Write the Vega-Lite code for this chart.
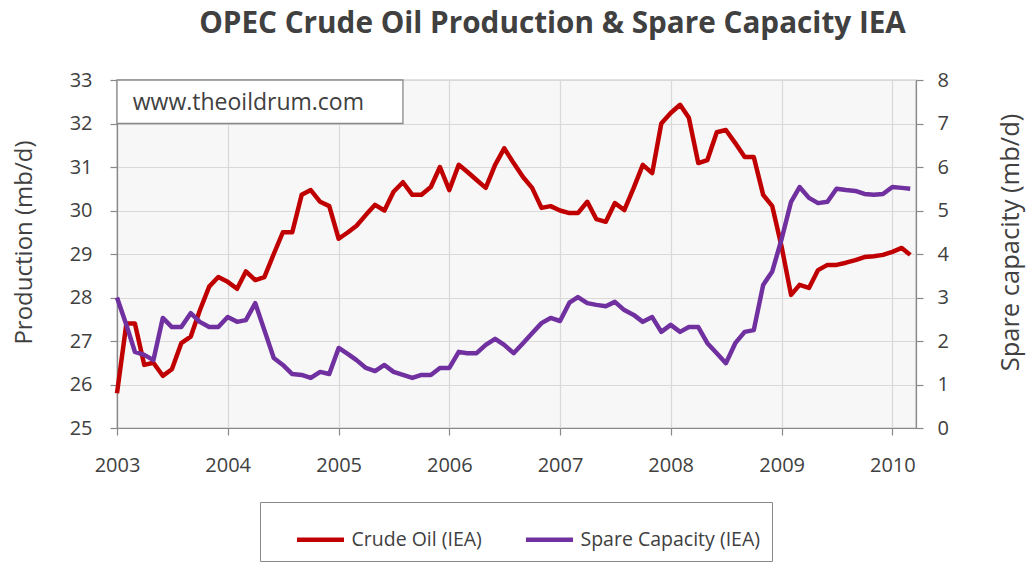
{
  "$schema": "https://vega.github.io/schema/vega-lite/v6.json",
  "width": 799,
  "height": 348,
  "autosize": {"type": "none"},
  "padding": {"left": 117, "top": 80, "right": 111, "bottom": 141},
  "background": "white",
  "title": {
    "text": "OPEC Crude Oil Production & Spare Capacity IEA",
    "font": "Open Sans",
    "fontSize": 29.7,
    "fontWeight": "bold",
    "color": "#404040",
    "anchor": "middle",
    "frame": "group",
    "dx": 36,
    "offset": 30
  },
  "config": {
    "view": {"fill": "#f7f7f7", "stroke": "#898989", "strokeWidth": 1.2},
    "axis": {
      "domainColor": "#898989",
      "domainWidth": 1.2,
      "tickColor": "#898989",
      "tickWidth": 1.2,
      "tickSize": 7,
      "gridColor": "#d9d9d9",
      "gridWidth": 1.2,
      "labelFont": "Open Sans",
      "labelFontSize": 20,
      "labelColor": "#404040",
      "labelFlush": false,
      "titleFont": "Open Sans",
      "titleFontSize": 24,
      "titleFontWeight": "normal",
      "titleColor": "#404040"
    }
  },
  "data": {
    "values": [
      {"month": "2003-01-01", "crude": 25.8, "spare": 3.0},
      {"month": "2003-02-01", "crude": 27.4, "spare": 2.37},
      {"month": "2003-03-01", "crude": 27.4, "spare": 1.75},
      {"month": "2003-04-01", "crude": 26.45, "spare": 1.68},
      {"month": "2003-05-01", "crude": 26.5, "spare": 1.56},
      {"month": "2003-06-01", "crude": 26.2, "spare": 2.53},
      {"month": "2003-07-01", "crude": 26.35, "spare": 2.32},
      {"month": "2003-08-01", "crude": 26.95, "spare": 2.32},
      {"month": "2003-09-01", "crude": 27.1, "spare": 2.64},
      {"month": "2003-10-01", "crude": 27.7, "spare": 2.44},
      {"month": "2003-11-01", "crude": 28.25, "spare": 2.32},
      {"month": "2003-12-01", "crude": 28.47, "spare": 2.32},
      {"month": "2004-01-01", "crude": 28.36, "spare": 2.55},
      {"month": "2004-02-01", "crude": 28.2, "spare": 2.44},
      {"month": "2004-03-01", "crude": 28.6, "spare": 2.48},
      {"month": "2004-04-01", "crude": 28.4, "spare": 2.87},
      {"month": "2004-05-01", "crude": 28.47, "spare": 2.25},
      {"month": "2004-06-01", "crude": 29.0, "spare": 1.61},
      {"month": "2004-07-01", "crude": 29.5, "spare": 1.45},
      {"month": "2004-08-01", "crude": 29.5, "spare": 1.24},
      {"month": "2004-09-01", "crude": 30.36, "spare": 1.22},
      {"month": "2004-10-01", "crude": 30.47, "spare": 1.15},
      {"month": "2004-11-01", "crude": 30.2, "spare": 1.29},
      {"month": "2004-12-01", "crude": 30.1, "spare": 1.24},
      {"month": "2005-01-01", "crude": 29.35, "spare": 1.84},
      {"month": "2005-02-01", "crude": 29.5, "spare": 1.7},
      {"month": "2005-03-01", "crude": 29.65, "spare": 1.56},
      {"month": "2005-04-01", "crude": 29.9, "spare": 1.38},
      {"month": "2005-05-01", "crude": 30.13, "spare": 1.31},
      {"month": "2005-06-01", "crude": 30.0, "spare": 1.45},
      {"month": "2005-07-01", "crude": 30.43, "spare": 1.29},
      {"month": "2005-08-01", "crude": 30.65, "spare": 1.22},
      {"month": "2005-09-01", "crude": 30.36, "spare": 1.15},
      {"month": "2005-10-01", "crude": 30.36, "spare": 1.22},
      {"month": "2005-11-01", "crude": 30.54, "spare": 1.22},
      {"month": "2005-12-01", "crude": 31.0, "spare": 1.38},
      {"month": "2006-01-01", "crude": 30.47, "spare": 1.38},
      {"month": "2006-02-01", "crude": 31.05, "spare": 1.75},
      {"month": "2006-03-01", "crude": 30.89, "spare": 1.72},
      {"month": "2006-04-01", "crude": 30.7, "spare": 1.72},
      {"month": "2006-05-01", "crude": 30.52, "spare": 1.91},
      {"month": "2006-06-01", "crude": 31.05, "spare": 2.05},
      {"month": "2006-07-01", "crude": 31.43, "spare": 1.91},
      {"month": "2006-08-01", "crude": 31.09, "spare": 1.72},
      {"month": "2006-09-01", "crude": 30.77, "spare": 1.95},
      {"month": "2006-10-01", "crude": 30.52, "spare": 2.18},
      {"month": "2006-11-01", "crude": 30.06, "spare": 2.41},
      {"month": "2006-12-01", "crude": 30.1, "spare": 2.53},
      {"month": "2007-01-01", "crude": 30.0, "spare": 2.46},
      {"month": "2007-02-01", "crude": 29.94, "spare": 2.88},
      {"month": "2007-03-01", "crude": 29.94, "spare": 3.01},
      {"month": "2007-04-01", "crude": 30.2, "spare": 2.87},
      {"month": "2007-05-01", "crude": 29.8, "spare": 2.83},
      {"month": "2007-06-01", "crude": 29.74, "spare": 2.8},
      {"month": "2007-07-01", "crude": 30.17, "spare": 2.9},
      {"month": "2007-08-01", "crude": 30.01, "spare": 2.71},
      {"month": "2007-09-01", "crude": 30.52, "spare": 2.6},
      {"month": "2007-10-01", "crude": 31.05, "spare": 2.44},
      {"month": "2007-11-01", "crude": 30.86, "spare": 2.55},
      {"month": "2007-12-01", "crude": 32.0, "spare": 2.21},
      {"month": "2008-01-01", "crude": 32.24, "spare": 2.37},
      {"month": "2008-02-01", "crude": 32.43, "spare": 2.21},
      {"month": "2008-03-01", "crude": 32.13, "spare": 2.32},
      {"month": "2008-04-01", "crude": 31.09, "spare": 2.32},
      {"month": "2008-05-01", "crude": 31.16, "spare": 1.95},
      {"month": "2008-06-01", "crude": 31.8, "spare": 1.72},
      {"month": "2008-07-01", "crude": 31.85, "spare": 1.49},
      {"month": "2008-08-01", "crude": 31.55, "spare": 1.95},
      {"month": "2008-09-01", "crude": 31.23, "spare": 2.21},
      {"month": "2008-10-01", "crude": 31.23, "spare": 2.25},
      {"month": "2008-11-01", "crude": 30.36, "spare": 3.29},
      {"month": "2008-12-01", "crude": 30.1, "spare": 3.6},
      {"month": "2009-01-01", "crude": 29.16, "spare": 4.35},
      {"month": "2009-02-01", "crude": 28.06, "spare": 5.2},
      {"month": "2009-03-01", "crude": 28.29, "spare": 5.54},
      {"month": "2009-04-01", "crude": 28.22, "spare": 5.29},
      {"month": "2009-05-01", "crude": 28.63, "spare": 5.17},
      {"month": "2009-06-01", "crude": 28.75, "spare": 5.2},
      {"month": "2009-07-01", "crude": 28.75, "spare": 5.5},
      {"month": "2009-08-01", "crude": 28.8, "spare": 5.47},
      {"month": "2009-09-01", "crude": 28.86, "spare": 5.45},
      {"month": "2009-10-01", "crude": 28.93, "spare": 5.38},
      {"month": "2009-11-01", "crude": 28.95, "spare": 5.36},
      {"month": "2009-12-01", "crude": 28.98, "spare": 5.38},
      {"month": "2010-01-01", "crude": 29.05, "spare": 5.54},
      {"month": "2010-02-01", "crude": 29.14, "spare": 5.52},
      {"month": "2010-03-01", "crude": 28.98, "spare": 5.5}
    ]
  },
  "layer": [
    {
      "mark": {"type": "line", "strokeWidth": 4.5, "strokeJoin": "round"},
      "encoding": {
        "x": {
          "field": "month",
          "type": "temporal",
          "title": "",
          "scale": {"type": "utc", "domain": [{"year": 2003, "month": 1, "date": 1, "utc": true}, {"year": 2010, "month": 3, "date": 20, "utc": true}]},
          "axis": {
            "grid": true,
            "labelPadding": 20,
            "labelFlush": false,
            "tickCount": {"interval": "year", "step": 1}
          }
        },
        "y": {
          "field": "crude",
          "type": "quantitative",
          "scale": {"domain": [25, 33], "nice": false, "zero": false},
          "axis": {
            "orient": "left",
            "title": "Production (mb/d)",
            "values": [25, 26, 27, 28, 29, 30, 31, 32, 33],
            "grid": true,
            "labelPadding": 18,
            "titleX": -93,
            "titleY": 162,
            "titleBaseline": "middle",
            "titleAlign": "center"
          }
        },
        "color": {
          "datum": "Crude Oil (IEA)",
          "type": "nominal",
          "scale": {"domain": ["Crude Oil (IEA)", "Spare Capacity (IEA)"], "range": ["#c00000", "#7030a0"]},
          "legend": {
            "orient": "none",
            "legendX": 143,
            "legendY": 422,
            "direction": "horizontal",
            "title": null,
            "symbolType": "stroke",
            "symbolSize": 2209,
            "symbolStrokeWidth": 4.5,
            "labelFont": "Open Sans",
            "labelFontSize": 19.5,
            "labelColor": "#404040",
            "labelLimit": 400,
            "padding": 11.5,
            "strokeColor": "#898989",
            "fillColor": "white",
            "symbolOffset": 23,
            "labelOffset": 5,
            "columnPadding": 18
          }
        }
      }
    },
    {
      "mark": {"type": "line", "strokeWidth": 4.5, "strokeJoin": "round"},
      "encoding": {
        "x": {"field": "month", "type": "temporal", "scale": {"type": "utc"}},
        "y": {
          "field": "spare",
          "type": "quantitative",
          "scale": {"domain": [0, 8], "nice": false},
          "axis": {
            "orient": "right",
            "title": "Spare capacity (mb/d)",
            "values": [0, 1, 2, 3, 4, 5, 6, 7, 8],
            "grid": false,
            "labelPadding": 14,
            "titleFontSize": 25.5,
            "titleAngle": 270,
            "titleX": 94,
            "titleY": 162,
            "titleBaseline": "middle",
            "titleAlign": "center"
          }
        },
        "color": {"datum": "Spare Capacity (IEA)", "type": "nominal"}
      }
    },
    {
      "data": {"values": [{}]},
      "mark": {"type": "rect", "fill": "white", "stroke": "#898989", "strokeWidth": 1.3},
      "encoding": {
        "x": {"datum": {"year": 2003, "month": 1, "date": 1, "utc": true}, "type": "temporal", "scale": {"type": "utc"}},
        "x2": {"datum": {"year": 2005, "month": 8, "date": 1, "utc": true}},
        "y": {"datum": 32, "type": "quantitative", "axis": null, "scale": {"domain": [25, 33], "nice": false, "zero": false}},
        "y2": {"datum": 33}
      }
    },
    {
      "data": {"values": [{}]},
      "mark": {"type": "text", "font": "Open Sans", "fontSize": 23, "color": "#404040", "align": "left", "baseline": "middle"},
      "encoding": {
        "x": {"datum": {"year": 2003, "month": 2, "date": 22, "utc": true}, "type": "temporal", "scale": {"type": "utc"}},
        "y": {"datum": 32.47, "type": "quantitative", "axis": null, "scale": {"domain": [25, 33], "nice": false, "zero": false}},
        "text": {"value": "www.theoildrum.com"}
      }
    }
  ],
  "resolve": {"scale": {"y": "independent"}}
}
